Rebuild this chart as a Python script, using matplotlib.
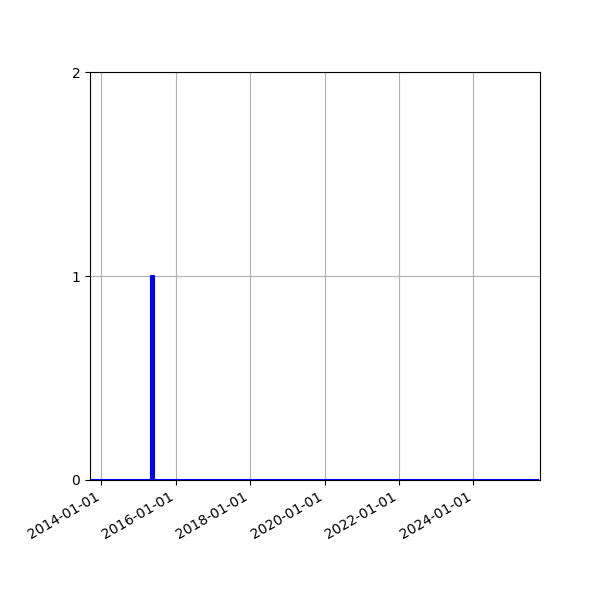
import numpy as np
import pandas as pd
import matplotlib
matplotlib.use("Agg")
import matplotlib.pyplot as plt
import matplotlib.dates as mdates

# monthly counts, Sep 2013 .. Oct 2025
months = pd.date_range("2013-09-01", "2025-10-01", freq="MS")
counts = (
    [0, 0, 0, 0]                                  # 2013 (Sep-Dec)
    + [0, 0, 0, 0, 0, 0, 0, 0, 0, 0, 0, 0]        # 2014
    + [0, 0, 0, 0, 1, 0, 0, 0, 0, 0, 0, 0]        # 2015
    + [0, 0, 0, 0, 0, 0, 0, 0, 0, 0, 0, 0]        # 2016
    + [0, 0, 0, 0, 0, 0, 0, 0, 0, 0, 0, 0]        # 2017
    + [0, 0, 0, 0, 0, 0, 0, 0, 0, 0, 0, 0]        # 2018
    + [0, 0, 0, 0, 0, 0, 0, 0, 0, 0, 0, 0]        # 2019
    + [0, 0, 0, 0, 0, 0, 0, 0, 0, 0, 0, 0]        # 2020
    + [0, 0, 0, 0, 0, 0, 0, 0, 0, 0, 0, 0]        # 2021
    + [0, 0, 0, 0, 0, 0, 0, 0, 0, 0, 0, 0]        # 2022
    + [0, 0, 0, 0, 0, 0, 0, 0, 0, 0, 0, 0]        # 2023
    + [0, 0, 0, 0, 0, 0, 0, 0, 0, 0, 0, 0]        # 2024
    + [0, 0, 0, 0, 0, 0, 0, 0, 0, 0]              # 2025 (Jan-Oct)
)
yticks = [0, 1, 2]

fig, ax = plt.subplots(figsize=(6, 6), dpi=100)
fig.subplots_adjust(left=0.15, right=0.9, top=0.88, bottom=0.2)

ax.step(months, counts, where="post", color="blue", linewidth=1.5)
ax.fill_between(months, counts, step="post", color="blue", linewidth=0)

ax.set_xlim(pd.Timestamp("2013-09-11"), pd.Timestamp("2025-10-17"))
ax.set_ylim(0, 2)
ax.set_yticks(yticks)
ax.xaxis.set_major_locator(mdates.YearLocator(2))
ax.xaxis.set_major_formatter(mdates.DateFormatter("%Y-%m-%d"))
ax.grid(True)
ax.set_axisbelow(True)
fig.autofmt_xdate()

plt.savefig("out.png")
